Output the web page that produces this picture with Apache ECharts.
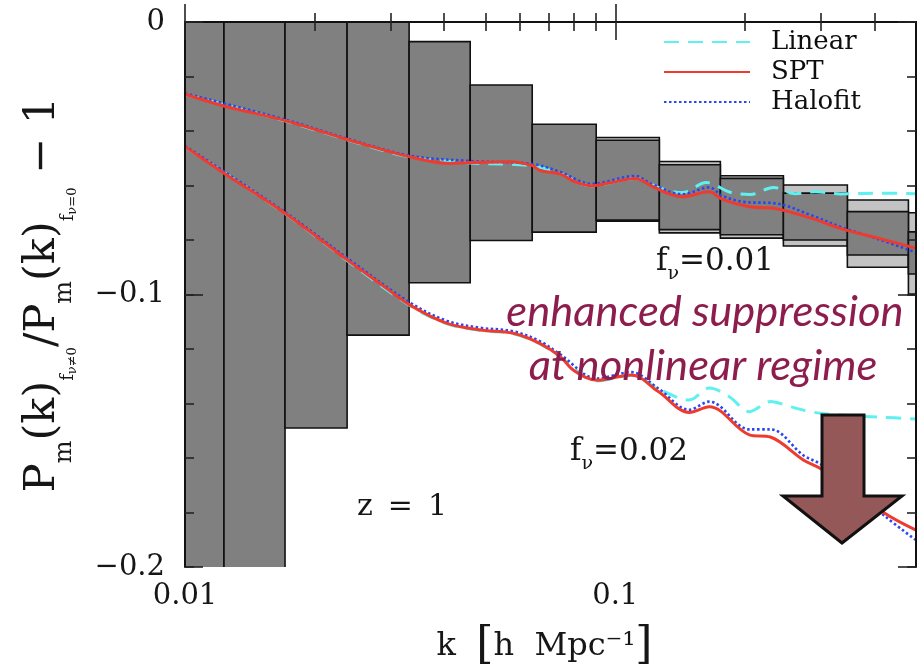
<!DOCTYPE html>
<html>
<head>
<meta charset="utf-8">
<script src="https://cdn.jsdelivr.net/npm/echarts@6/dist/echarts.min.js"></script>
<style>html,body{margin:0;padding:0;background:#fff;}#c{width:922px;height:669px;}</style>
</head>
<body>
<div id="c"></div>
<script>
// ---- data ----
// f_nu = 0.01
const kLin1 = [0.0100, 0.01708, 0.02381, 0.03318, 0.04601, 0.06412, 0.07450, 0.08796, 0.1113, 0.1273, 0.1431, 0.1628, 0.1851, 0.2061, 0.2331, 0.2622, 0.2918, 0.3336, 0.4133, 0.500];
const lin1  = [-0.0266, -0.0363, -0.0432, -0.0495, -0.0517, -0.0528, -0.0557, -0.0601, -0.0574, -0.0610, -0.0626, -0.0589, -0.0625, -0.0633, -0.0607, -0.0630, -0.0623, -0.0631, -0.0628, -0.0630];
const kSpt1 = [0.0100, 0.01232, 0.01708, 0.02381, 0.03318, 0.04133, 0.04601, 0.05698, 0.06412, 0.06693, 0.07450, 0.08030, 0.08796, 0.09736, 0.1113, 0.1213, 0.1328, 0.1431, 0.1654, 0.1774, 0.2050, 0.2368, 0.2841, 0.3409, 0.4089, 0.4986];
const spt1  = [-0.0265, -0.0308, -0.0362, -0.0431, -0.0494, -0.0519, -0.0516, -0.0513, -0.0527, -0.0545, -0.0558, -0.0585, -0.0601, -0.0590, -0.0574, -0.0601, -0.0630, -0.0641, -0.0623, -0.0651, -0.0678, -0.0685, -0.0719, -0.0762, -0.0793, -0.0830];
const kHalo1 = [0.0100, 0.01708, 0.02381, 0.03318, 0.04601, 0.06412, 0.07450, 0.08796, 0.1113, 0.1213, 0.1431, 0.1654, 0.1774, 0.1985, 0.2368, 0.2841, 0.3409, 0.4089, 0.4986];
const halo1  = [-0.0262, -0.0358, -0.0428, -0.0490, -0.0510, -0.0521, -0.0550, -0.0594, -0.0565, -0.0594, -0.0632, -0.0607, -0.0638, -0.0660, -0.0666, -0.0708, -0.0757, -0.0797, -0.0845];
// f_nu = 0.02
const kLin2 = [0.0100, 0.01708, 0.02381, 0.03336, 0.04067, 0.04853, 0.05791, 0.06693, 0.07450, 0.09081, 0.1089, 0.1273, 0.1486, 0.1654, 0.1841, 0.2050, 0.2294, 0.2553, 0.2841, 0.3162, 0.3520, 0.4133, 0.500];
const lin2  = [-0.0459, -0.0703, -0.0875, -0.1041, -0.1108, -0.1132, -0.1144, -0.1182, -0.1230, -0.1317, -0.1297, -0.1350, -0.1387, -0.1343, -0.1375, -0.1430, -0.1393, -0.1412, -0.1430, -0.1440, -0.1445, -0.1450, -0.1457];
const kSpt2 = [0.0100, 0.01232, 0.01708, 0.02381, 0.02841, 0.03336, 0.04067, 0.04853, 0.05791, 0.06693, 0.07450, 0.08030, 0.09081, 0.1089, 0.1259, 0.1486, 0.1654, 0.2050, 0.2294, 0.2736, 0.2997, 0.3520, 0.4223, 0.4986];
const spt2  = [-0.0458, -0.0555, -0.0702, -0.0873, -0.0960, -0.1039, -0.1106, -0.1130, -0.1142, -0.1180, -0.1228, -0.1280, -0.1315, -0.1295, -0.1356, -0.1433, -0.1412, -0.1515, -0.1523, -0.1607, -0.1638, -0.1705, -0.1802, -0.1864];
const kHalo2 = [0.0100, 0.01708, 0.02381, 0.03336, 0.04067, 0.04853, 0.05791, 0.06693, 0.07450, 0.09081, 0.1089, 0.1259, 0.1486, 0.1654, 0.2050, 0.2294, 0.2736, 0.2997, 0.3520, 0.4223, 0.4986];
const halo2  = [-0.0455, -0.0698, -0.0866, -0.1030, -0.1097, -0.1122, -0.1135, -0.1172, -0.1220, -0.1308, -0.1285, -0.1345, -0.1423, -0.1393, -0.1495, -0.1495, -0.1590, -0.1622, -0.1700, -0.1812, -0.1900];

// error boxes (k bin edges, top, bottom)
const binLo   = [0.0088, 0.01232, 0.01708, 0.02381, 0.03318, 0.04601, 0.06412, 0.0903, 0.1266, 0.1755, 0.2459, 0.3463, 0.4801];
const binHi   = [0.01232, 0.01708, 0.02381, 0.03318, 0.04601, 0.06412, 0.0903, 0.1266, 0.1755, 0.2459, 0.3463, 0.4801, 0.668];
const darkTop = [0.05, 0.05, 0.05, 0.05, -0.0072, -0.0231, -0.0375, -0.0434, -0.0524, -0.0574, -0.0628, -0.0696, -0.0770];
const darkBot = [-0.25, -0.25, -0.1490, -0.1149, -0.0957, -0.0802, -0.0771, -0.0727, -0.0762, -0.0781, -0.0800, -0.0855, -0.0925];
const lightLo  = [0.0903, 0.1266, 0.1755, 0.2459, 0.3463, 0.4801];
const lightHi  = [0.1266, 0.1755, 0.2459, 0.3463, 0.4801, 0.668];
const lightTop = [-0.0424, -0.0512, -0.0564, -0.0598, -0.0653, -0.0700];
const lightBot = [-0.0731, -0.0774, -0.0793, -0.0822, -0.0900, -0.0998];

const xMajor = [0.01, 0.1];
const xMinor = [0.02, 0.03, 0.04, 0.05, 0.06, 0.07, 0.08, 0.09, 0.2, 0.3, 0.4];
const yLabels = [0, -0.1, -0.2];

// ---- chart ----
const SERIF = 'DejaVu Serif';
const INK = '#161616';
const zip = (xs, ys) => xs.map((x, i) => [x, ys[i]]);
const boxes = (lo, hi, top, bot) => lo.map((v, i) => [v, hi[i], top[i], bot[i]]);
function boxRenderer(fill) {
  return function (params, api) {
    const p1 = api.coord([api.value(0), api.value(2)]);
    const p2 = api.coord([api.value(1), api.value(3)]);
    return { type: 'rect', shape: { x: p1[0], y: p1[1], width: p2[0] - p1[0], height: p2[1] - p1[1] },
      style: { fill: fill, stroke: '#111', lineWidth: 1.6 } };
  };
}
const axisCommon = { type: 'log', logBase: 10, min: 0.01, max: 0.5, gridIndex: 0, z: 10, splitLine: { show: false } };
const chart = echarts.init(document.getElementById('c'), null, { renderer: 'canvas' });
const lineColor = { lin: '#5ff0f0', spt: '#ee3b2e', halo: '#2846f2' };
function lin(data) { return { name: 'Linear', type: 'line', data, symbol: 'none', smooth: 0.35, z: 3,
  lineStyle: { color: lineColor.lin, width: 3, type: [15, 9] }, itemStyle: { color: lineColor.lin } }; }
function halo(data) { return { name: 'Halofit', type: 'line', data, symbol: 'none', smooth: 0.35, z: 4,
  lineStyle: { color: lineColor.halo, width: 2.6, type: [2.5, 2.5] }, itemStyle: { color: lineColor.halo } }; }
function spt(data) { return { name: 'SPT', type: 'line', data, symbol: 'none', smooth: 0.35, z: 5,
  lineStyle: { color: lineColor.spt, width: 3 }, itemStyle: { color: lineColor.spt } }; }

const option = {
  animation: false,
  backgroundColor: '#fff',
  grid: { left: 185, top: 22, width: 731, height: 545, containLabel: false, outerBoundsMode: 'none' },
  legend: {
    data: ['Linear', 'SPT', 'Halofit'], orient: 'vertical', left: 663, top: 29, padding: 0,
    itemWidth: 86, itemHeight: 12, itemGap: 4,
    itemStyle: { opacity: 0 },
    textStyle: { fontFamily: SERIF, fontSize: 26, lineHeight: 26, color: '#0e0e0e', padding: [0, 0, 0, 16] }
  },
  xAxis: [
    Object.assign({}, axisCommon, { position: 'bottom',
      axisLine: { show: true, lineStyle: { color: '#444', width: 2 } },
      axisTick: { show: true, inside: true, length: 18, customValues: xMajor, lineStyle: { color: '#222', width: 1.6 } },
      axisLabel: { show: true, customValues: xMajor, formatter: v => String(+(+v).toPrecision(3)), margin: 15,
        fontFamily: SERIF, fontSize: 29, color: INK },
      name: '{t|k  }{b|[}{t|h  Mpc⁻¹}{b|]}', nameLocation: 'middle', nameGap: 58,
      nameTextStyle: { color: INK, padding: [0, 12, 0, 0], rich: {
        t: { fontFamily: SERIF, fontSize: 32, color: INK },
        b: { fontFamily: SERIF, fontSize: 44, color: INK }
      } } }),
    Object.assign({}, axisCommon, { position: 'bottom', axisLine: { show: false },
      axisTick: { show: true, inside: true, length: 9, customValues: xMinor, lineStyle: { color: '#222', width: 1.6 } },
      axisLabel: { show: false } }),
    Object.assign({}, axisCommon, { position: 'top',
      axisLine: { show: true, lineStyle: { color: '#111', width: 2 } },
      axisTick: { show: true, inside: true, length: 18, customValues: xMajor, lineStyle: { color: '#222', width: 1.6 } },
      axisLabel: { show: false } }),
    Object.assign({}, axisCommon, { position: 'top', axisLine: { show: false },
      axisTick: { show: true, inside: true, length: 9, customValues: xMinor, lineStyle: { color: '#222', width: 1.6 } },
      axisLabel: { show: false } })
  ],
  yAxis: [
    { type: 'value', min: -0.2, max: 0, interval: 0.1, position: 'left', z: 10, splitLine: { show: false },
      axisLine: { show: true, lineStyle: { color: '#111', width: 2 } },
      axisTick: { show: true, inside: true, length: 18, lineStyle: { color: '#222', width: 1.6 } },
      axisLabel: { show: true, customValues: yLabels, margin: 20, fontFamily: SERIF, fontSize: 29, color: INK,
        formatter: v => (Math.abs(v) < 1e-9 ? '0' : (v < 0 ? '\u2212' + String(+Math.abs(v).toFixed(2)) : String(v))) },
      name: '{m|P}{s|m}{m|(k)}{s2|f}{s3|ν≠0}{m|/P}{s|m}{m|(k)}{s2|f}{s3|ν=0}{m| − 1}',
      nameLocation: 'middle', nameRotate: 90, nameGap: 121,
      nameTextStyle: { color: INK, rich: {
        m: { fontFamily: SERIF, fontSize: 43, lineHeight: 43, verticalAlign: 'top', color: INK },
        s: { fontFamily: SERIF, fontSize: 24, lineHeight: 24, padding: [32, 0, 0, 0], verticalAlign: 'top', color: INK },
        s2: { fontFamily: SERIF, fontSize: 18, lineHeight: 18, padding: [38, 0, 0, 0], verticalAlign: 'top', color: INK },
        s3: { fontFamily: SERIF, fontSize: 13, lineHeight: 13, padding: [45, 0, 0, 0], verticalAlign: 'top', color: INK }
      } } },
    { type: 'value', min: -0.2, max: 0, interval: 0.02, position: 'left', z: 10, splitLine: { show: false },
      axisLine: { show: false }, axisLabel: { show: false },
      axisTick: { show: true, inside: true, length: 9, lineStyle: { color: '#222', width: 1.6 } } },
    { type: 'value', min: -0.2, max: 0, interval: 0.1, position: 'right', z: 10, splitLine: { show: false },
      axisLine: { show: true, lineStyle: { color: '#111', width: 2 } }, axisLabel: { show: false },
      axisTick: { show: true, inside: true, length: 18, lineStyle: { color: '#222', width: 1.6 } } },
    { type: 'value', min: -0.2, max: 0, interval: 0.02, position: 'right', z: 10, splitLine: { show: false },
      axisLine: { show: false }, axisLabel: { show: false },
      axisTick: { show: true, inside: true, length: 9, lineStyle: { color: '#222', width: 1.6 } } }
  ],
  series: [
    { type: 'custom', name: 'errLight', renderItem: boxRenderer('#c3c3c3'), data: boxes(lightLo, lightHi, lightTop, lightBot),
      encode: { x: [0, 1], y: [2, 3] }, clip: true, z: 1, silent: true },
    { type: 'custom', name: 'errDark', renderItem: boxRenderer('#808080'), data: boxes(binLo, binHi, darkTop, darkBot),
      encode: { x: [0, 1], y: [2, 3] }, clip: true, z: 2, silent: true },
    lin(zip(kLin1, lin1)), lin(zip(kLin2, lin2)),
    halo(zip(kHalo1, halo1)), halo(zip(kHalo2, halo2)),
    spt(zip(kSpt1, spt1)), spt(zip(kSpt2, spt2))
  ],
  graphic: [
    { type: 'text', x: 656, y: 246, z: 50, style: { text: '{a|f}{b|ν}{a|=0.01}', align: 'left', verticalAlign: 'top', fill: INK,
      rich: { a: { fontFamily: SERIF, fontSize: 31, lineHeight: 31, verticalAlign: 'top' },
              b: { fontFamily: SERIF, fontSize: 19, lineHeight: 19, padding: [19, 0, 0, 0], verticalAlign: 'top' } } } },
    { type: 'text', x: 570, y: 436, z: 50, style: { text: '{a|f}{b|ν}{a|=0.02}', align: 'left', verticalAlign: 'top', fill: INK,
      rich: { a: { fontFamily: SERIF, fontSize: 31, lineHeight: 31, verticalAlign: 'top' },
              b: { fontFamily: SERIF, fontSize: 19, lineHeight: 19, padding: [19, 0, 0, 0], verticalAlign: 'top' } } } },
    { type: 'text', x: 357, y: 507, z: 50, style: { text: 'z\u2002=\u20021', align: 'left', verticalAlign: 'middle', fill: INK,
      font: '30px "DejaVu Serif"' } },
    { type: 'text', x: 705, y: 312, z: 60, style: { text: 'enhanced suppression', align: 'center', verticalAlign: 'middle',
      fill: '#8c1d4c', font: 'italic 43.5px Lato' } },
    { type: 'text', x: 703, y: 366, z: 60, style: { text: 'at nonlinear regime', align: 'center', verticalAlign: 'middle',
      fill: '#8c1d4c', font: 'italic 43.5px Lato' } },
    { type: 'polygon', z: 70, shape: { points: [[822, 415], [864, 415], [864, 496], [902, 496], [842, 543], [783, 496], [822, 496]] },
      style: { fill: '#955858', stroke: '#111', lineWidth: 3, lineJoin: 'miter' } }
  ]
};
chart.setOption(option);
</script>
</body>
</html>
